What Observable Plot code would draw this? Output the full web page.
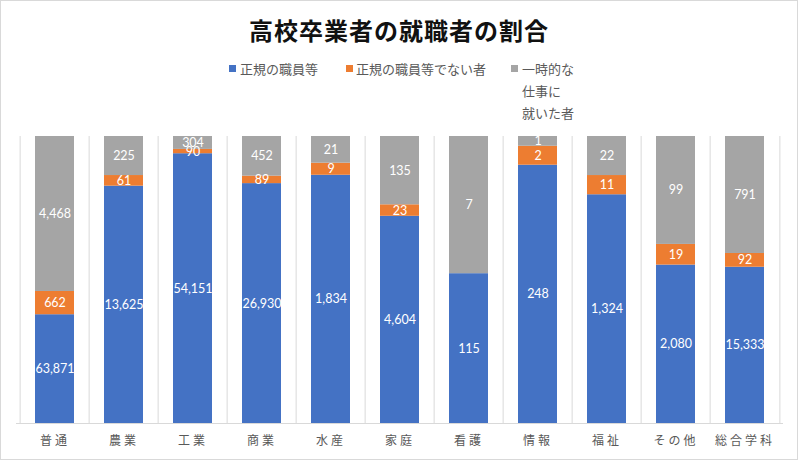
<!DOCTYPE html>
<html>
<head>
<meta charset="utf-8">
<script src="https://cdn.jsdelivr.net/npm/d3@7"></script>
<script src="https://cdn.jsdelivr.net/npm/@observablehq/plot@0.6"></script>
<style>
  html, body { margin: 0; padding: 0; background: #fff; }
  #chart {
    position: relative; width: 798px; height: 460px; box-sizing: border-box;
    border: 1px solid #d9d9d9; background: #fff; overflow: hidden;
    font-family: "Noto Sans CJK JP", sans-serif;
  }
  #title {
    position: absolute; left: 0; right: 0; top: 17px; text-align: center;
    font-size: 24px; line-height: 24px; font-weight: bold; color: #111;
    letter-spacing: 1px;
  }
  .leg { position: absolute; font-size: 13px; line-height: 14px; color: #595959; white-space: nowrap; }
  .sw { position: absolute; width: 7px; height: 7px; }
  #plot { position: absolute; left: 0; top: 119px; }
  #plot svg [aria-label="x-axis tick label"] text { letter-spacing: 3px; }
</style>
</head>
<body>
<div id="chart">
  <div id="title">高校卒業者の就職者の割合</div>
  <div id="legend"></div>
  <div id="plot"></div>
</div>
<script>
const categories = ["普通","農業","工業","商業","水産","家庭","看護","情報","福祉","その他","総合学科"];
const seriesNames = ["正規の職員等","正規の職員等でない者","一時的な仕事に就いた者"];
const seriesColors = ["#4472C4","#ED7D31","#A5A5A5"];
// segment shares (%) as drawn in the picture
const regularShare    = [37.9, 82.7, 94.0, 83.5, 86.5, 72.2, 52.2, 90.0, 79.7, 55.2, 54.5];
const nonRegularShare = [ 8.1,  3.7,  1.5,  2.6,  4.2,  4.0,  0.0,  6.6,  6.7,  7.2,  4.8];
const temporaryShare  = [54.0, 13.6,  4.5, 13.8,  9.3, 23.8, 47.8,  3.4, 13.6, 37.6, 40.8];
// data labels
const regularLabel    = [63871, 13625, 54151, 26930, 1834, 4604, 115, 248, 1324, 2080, 15333];
const nonRegularLabel = [662, 61, 90, 89, 9, 23, null, 2, 11, 19, 92];
const temporaryLabel  = [4468, 225, 304, 452, 21, 135, 7, 1, 22, 99, 791];

const shares = [regularShare, nonRegularShare, temporaryShare];
const labels = [regularLabel, nonRegularLabel, temporaryLabel];
const rows = [];
categories.forEach((c, i) => {
  seriesNames.forEach((s, j) => {
    rows.push({category: c, series: s, share: shares[j][i], label: labels[j][i]});
  });
});

// legend
const legendItems = [
  {name: seriesNames[0], lines: ["正規の職員等"], sx: 229, tx: 240},
  {name: seriesNames[1], lines: ["正規の職員等でない者"], sx: 346, tx: 356},
  {name: seriesNames[2], lines: ["一時的な","仕事に","就いた者"], sx: 511, tx: 522}
];
const legendRowsY = [69, 91, 113];
const legend = document.getElementById("legend");
legendItems.forEach((it, k) => {
  const sw = document.createElement("div");
  sw.className = "sw";
  sw.style.left = (it.sx - 1) + "px";
  sw.style.top = (legendRowsY[0] - 4 - 1) + "px";
  sw.style.background = seriesColors[k];
  legend.appendChild(sw);
  it.lines.forEach((ln, r) => {
    const t = document.createElement("div");
    t.className = "leg";
    t.textContent = ln;
    t.style.left = (it.tx - 1) + "px";
    t.style.top = (legendRowsY[r] - 7 - 1) + "px";
    legend.appendChild(t);
  });
});

const W = 796, H = 341, mL = 15, mR = 14, mT = 16, mB = 38;
const step = (W - mL - mR) / categories.length;
const fmt = d3.format(",");

const chart = Plot.plot({
  width: W, height: H,
  marginTop: mT, marginBottom: mB, marginLeft: mL, marginRight: mR,
  style: {fontFamily: "'Noto Sans CJK JP', sans-serif", fontSize: "12px", color: "#595959", background: "transparent"},
  x: {domain: categories, paddingInner: 0.44, paddingOuter: 0.22, label: null, tickSize: 0, tickPadding: 13},
  y: {domain: [0, 1], axis: null},
  color: {domain: seriesNames, range: seriesColors},
  marks: [
    Plot.ruleX(categories, {x: d => d, dx: -step / 2, y1: 0, y2: 1, stroke: "#d9d9d9"}),
    Plot.ruleX(categories.slice(-1), {x: d => d, dx: step / 2, y1: 0, y2: 1, stroke: "#d9d9d9"}),
    Plot.barY(rows, {x: "category", y: "share", z: "series", fill: "series", offset: "normalize"}),
    Plot.ruleY([0], {stroke: "#d9d9d9"}),
    Plot.text(rows, Plot.stackY({
      x: "category", y: "share", z: "series", offset: "normalize",
      text: d => d.label == null ? "" : fmt(d.label),
      fill: "white", fontSize: 12.5, fontFamily: "Lato, sans-serif"
    }))
  ]
});
document.getElementById("plot").appendChild(chart);
</script>
</body>
</html>
